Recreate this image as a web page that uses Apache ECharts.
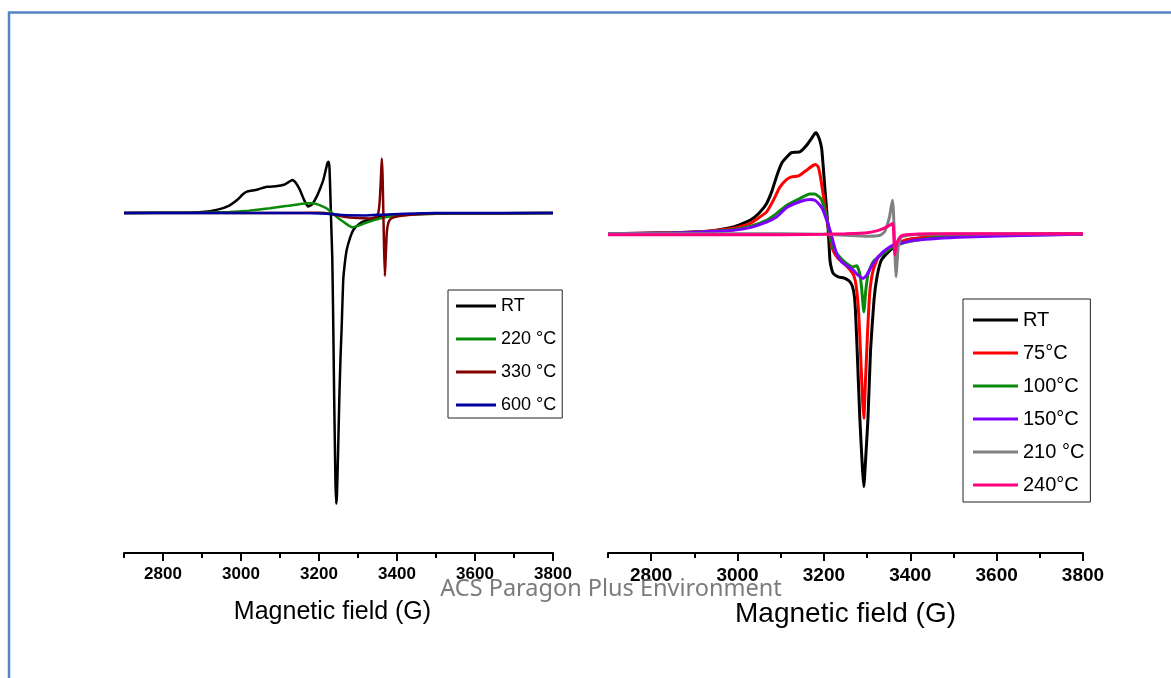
<!DOCTYPE html>
<html>
<head>
<meta charset="utf-8">
<script src="https://cdn.jsdelivr.net/npm/echarts@6/dist/echarts.min.js"></script>
<style>
html,body{margin:0;padding:0;background:#fff;}
#chart{width:1171px;height:678px;}
</style>
</head>
<body>
<div id="chart"></div>
<script>
// ---- tick values ----
var majorTicks = [2800, 3000, 3200, 3400, 3600, 3800];
var minorTicks = [2700, 2900, 3100, 3300, 3500, 3700];
var axisTitle = 'Magnetic field (G)';
var watermark = 'ACS Paragon Plus Environment';

// ---- left panel series: [field (G), intensity (a.u.)] ----
var leftNames = ['RT', '220 °C', '330 °C', '600 °C'];
var leftRT = [[2700,0],[2850,0.01],[2900,0.03],[2940,0.1],[2970,0.22],[2990,0.38],[3005,0.55],[3015,0.63],[3030,0.66],[3045,0.70],[3066,0.77],[3090,0.79],[3110,0.83],[3125,0.93],[3132,0.97],[3140,0.9],[3151,0.68],[3162,0.38],[3172,0.19],[3182,0.25],[3194,0.48],[3204,0.75],[3211,0.97],[3218,1.3],[3222,1.48],[3225,1.51],[3227,1.3],[3229,0.6],[3231,-0.2],[3234,-1.3],[3236,-2.8],[3239,-5.5],[3242,-7.8],[3244,-8.55],[3246,-8.3],[3249,-7.0],[3252,-5.5],[3255,-4.3],[3258,-3.4],[3262,-2.0],[3266,-1.5],[3271,-1.09],[3280,-0.72],[3288,-0.5],[3300,-0.35],[3314,-0.25],[3339,-0.16],[3374,-0.09],[3420,-0.05],[3460,-0.03],[3550,-0.01],[3800,0]];
var left220 = [[2700,0],[2900,0.01],[2970,0.03],[3020,0.07],[3074,0.14],[3120,0.21],[3168,0.29],[3185,0.29],[3200,0.24],[3220,0.13],[3245,-0.11],[3265,-0.28],[3285,-0.42],[3300,-0.38],[3322,-0.28],[3356,-0.16],[3390,-0.09],[3450,-0.04],[3550,-0.01],[3800,0]];
var left330 = [[2700,0],[3150,0],[3200,0.01],[3230,-0.02],[3260,-0.1],[3300,-0.15],[3330,-0.16],[3345,-0.12],[3352,0.0],[3356,0.4],[3359,1.1],[3361,1.6],[3363,1.1],[3365,0.0],[3367,-1.1],[3369,-1.85],[3371,-1.3],[3374,-0.55],[3378,-0.28],[3385,-0.16],[3400,-0.1],[3450,-0.04],[3520,-0.01],[3800,0]];
var left600 = [[2700,0],[3150,0],[3220,-0.02],[3260,-0.06],[3320,-0.07],[3360,-0.05],[3420,-0.02],[3500,0],[3800,0]];

// ---- right panel series ----
var rightNames = ['RT', '75°C', '100°C', '150°C', '210 °C', '240°C'];
var rightRT = [[2700,0],[2850,0.03],[2913,0.06],[2952,0.11],[2990,0.21],[3029,0.42],[3050,0.65],[3067,0.94],[3080,1.35],[3090,1.78],[3102,2.2],[3114,2.40],[3125,2.54],[3135,2.55],[3144,2.56],[3152,2.65],[3160,2.77],[3171,2.98],[3179,3.14],[3182,3.16],[3187,3.05],[3191,2.9],[3195,2.65],[3199,2.0],[3202,1.46],[3206,0.8],[3210,0.11],[3214,-0.83],[3218,-1.12],[3222,-1.25],[3233,-1.35],[3245,-1.38],[3253,-1.43],[3260,-1.5],[3266,-1.65],[3270,-1.9],[3273,-2.4],[3277,-3.65],[3283,-5.73],[3289,-7.3],[3292.5,-7.92],[3296,-7.2],[3302,-5.8],[3308,-3.65],[3316,-2.08],[3323,-1.35],[3333,-0.83],[3353,-0.52],[3372,-0.32],[3391,-0.2],[3420,-0.14],[3452,-0.1],[3500,-0.07],[3607,-0.03],[3700,-0.01],[3800,0]];
var right75 = [[2700,0],[2850,0.03],[2913,0.06],[2990,0.17],[3029,0.32],[3067,0.68],[3083,1.05],[3098,1.46],[3114,1.70],[3125,1.78],[3137,1.80],[3144,1.83],[3160,1.99],[3175,2.14],[3181,2.17],[3187,2.09],[3192,1.78],[3198,1.26],[3206,0.53],[3214,-0.1],[3221,-0.52],[3233,-0.78],[3248,-0.95],[3260,-1.12],[3269,-1.30],[3275,-1.66],[3281,-2.6],[3285.5,-3.96],[3289.5,-5.21],[3292.5,-5.78],[3296,-4.69],[3301,-3.12],[3306,-1.87],[3314,-1.14],[3326,-0.73],[3337,-0.6],[3353,-0.45],[3372,-0.3],[3391,-0.19],[3452,-0.09],[3600,-0.03],[3800,0]];
var right100 = [[2700,0],[2850,0.02],[2913,0.05],[2990,0.13],[3029,0.23],[3067,0.42],[3090,0.63],[3114,0.89],[3144,1.10],[3167,1.24],[3179,1.24],[3191,1.13],[3198,0.94],[3206,0.53],[3214,0.0],[3221,-0.41],[3233,-0.67],[3248,-0.88],[3267,-1.04],[3276,-1.0],[3283,-1.25],[3287,-1.66],[3292.5,-2.45],[3297,-1.77],[3302.5,-1.25],[3314,-0.88],[3337,-0.62],[3360,-0.41],[3391,-0.26],[3452,-0.13],[3607,-0.05],[3800,-0.02]];
var right150 = [[2700,0],[2850,0.02],[2913,0.05],[2990,0.11],[3029,0.19],[3067,0.36],[3090,0.52],[3114,0.82],[3144,1.0],[3167,1.07],[3179,1.05],[3191,0.89],[3198,0.74],[3214,0.11],[3229,-0.62],[3241,-0.88],[3252,-0.99],[3268,-1.14],[3279,-1.30],[3291,-1.40],[3299,-1.30],[3314,-0.93],[3337,-0.57],[3360,-0.36],[3414,-0.2],[3530,-0.1],[3684,-0.05],[3800,-0.02]];
var right210 = [[2700,0],[3100,0],[3200,-0.02],[3250,-0.05],[3300,-0.08],[3330,-0.05],[3340,0.05],[3345,0.21],[3352,0.53],[3356,0.85],[3359,1.05],[3361,0.7],[3363,0],[3365,-0.8],[3367,-1.35],[3369,-1.0],[3372,-0.41],[3376,-0.2],[3380,-0.1],[3400,-0.04],[3500,-0.01],[3800,0]];
var right240 = [[2700,-0.03],[3100,-0.03],[3200,-0.02],[3250,0.0],[3300,0.03],[3320,0.08],[3337,0.16],[3353,0.27],[3359,0.32],[3361,0.2],[3362.5,-0.3],[3364,-0.67],[3366,-0.5],[3369,-0.3],[3372,-0.2],[3378,-0.08],[3390,-0.03],[3450,0],[3800,0]];

var leftColors = ['#000000', '#0a8a0a', '#800000', '#0000a0'];
var rightColors = ['#000000', '#ff0000', '#0a8a0a', '#8000ff', '#808080', '#ff0080'];

var FONT = '"Liberation Sans", Arial, sans-serif';

function majorAxis(gridIndex, labelSize, nameSize, namePad, nameGap) {
  return {
    type: 'value', gridIndex: gridIndex, min: 2700, max: 3800, position: 'bottom',
    axisLine: { show: true, onZero: false, lineStyle: { color: '#000', width: 2 } },
    axisTick: { show: true, customValues: majorTicks, length: 8, lineStyle: { color: '#000', width: 2 } },
    axisLabel: { show: true, customValues: majorTicks, margin: 13, color: '#000', fontWeight: 'bold',
      fontSize: labelSize, fontFamily: FONT, formatter: function (v) { return String(v); } },
    splitLine: { show: false },
    name: axisTitle, nameLocation: 'middle', nameGap: nameGap,
    nameTextStyle: { color: '#000', fontSize: nameSize, fontFamily: FONT, padding: namePad }
  };
}
function minorAxis(gridIndex) {
  return {
    type: 'value', gridIndex: gridIndex, min: 2700, max: 3800, position: 'bottom',
    axisLine: { show: false, onZero: false },
    axisTick: { show: true, customValues: minorTicks, length: 5, lineStyle: { color: '#000', width: 2 } },
    axisLabel: { show: false },
    splitLine: { show: false }
  };
}

var series = [];
[leftRT, left220, left330, left600].forEach(function (d, i) {
  series.push({ name: leftNames[i], type: 'line', xAxisIndex: 0, yAxisIndex: 0, data: d,
    showSymbol: false, symbol: 'none', smooth: 0.15, color: leftColors[i],
    lineStyle: { width: 2.5, color: leftColors[i] }, z: 2 + i });
});
[rightRT, right75, right100, right150, right210, right240].forEach(function (d, i) {
  series.push({ name: rightNames[i], type: 'line', xAxisIndex: 2, yAxisIndex: 1, data: d,
    showSymbol: false, symbol: 'none', smooth: 0.15, color: rightColors[i],
    lineStyle: { width: 3, color: rightColors[i] }, z: 2 + i });
});

var chart = echarts.init(document.getElementById('chart'), null, { renderer: 'canvas' });
chart.setOption({
  animation: false,
  backgroundColor: '#ffffff',
  grid: [
    { left: 124, right: 618, top: 111, bottom: 125 },
    { left: 608, right: 88, top: 106, bottom: 125 }
  ],
  xAxis: [
    majorAxis(0, 17, 25, [0, 12, 0, 0], 47),
    minorAxis(0),
    majorAxis(1, 19, 28, [0, 0, 0, 0], 47),
    minorAxis(1)
  ],
  yAxis: [
    { type: 'value', gridIndex: 0, min: -10, max: 3, show: false },
    { type: 'value', gridIndex: 1, min: -10, max: 4, show: false }
  ],
  legend: [
    {
      data: leftNames.map(function (n, i) { return { name: n, itemStyle: { color: leftColors[i] } }; }),
      orient: 'vertical', left: 448, top: 290,
      icon: 'rect', itemWidth: 40, itemHeight: 3, itemGap: 13,
      padding: [6, 6, 3, 8], borderColor: '#222', borderWidth: 1,
      selectedMode: false,
      textStyle: { color: '#000', fontSize: 18, lineHeight: 20, fontFamily: FONT }
    },
    {
      data: rightNames.map(function (n, i) { return { name: n, itemStyle: { color: rightColors[i] } }; }),
      orient: 'vertical', left: 963, top: 299,
      icon: 'rect', itemWidth: 45, itemHeight: 3, itemGap: 11,
      padding: [10, 6, 6, 10], borderColor: '#222', borderWidth: 1,
      selectedMode: false,
      textStyle: { color: '#000', fontSize: 20, lineHeight: 22, fontFamily: FONT }
    }
  ],
  graphic: [
    { type: 'rect', silent: true, z: 0,
      shape: { x: 9, y: 12.5, width: 1300, height: 800 },
      style: { fill: 'none', stroke: '#5585c5', lineWidth: 2.5 } },
    { type: 'text', silent: true, z: 100,
      style: { text: watermark, x: 611, y: 589, textAlign: 'center', textVerticalAlign: 'middle',
        fill: 'rgba(100,100,100,0.85)', font: '23.5px "Noto Sans", "Open Sans", sans-serif' } }
  ],
  series: series
});
</script>
</body>
</html>
